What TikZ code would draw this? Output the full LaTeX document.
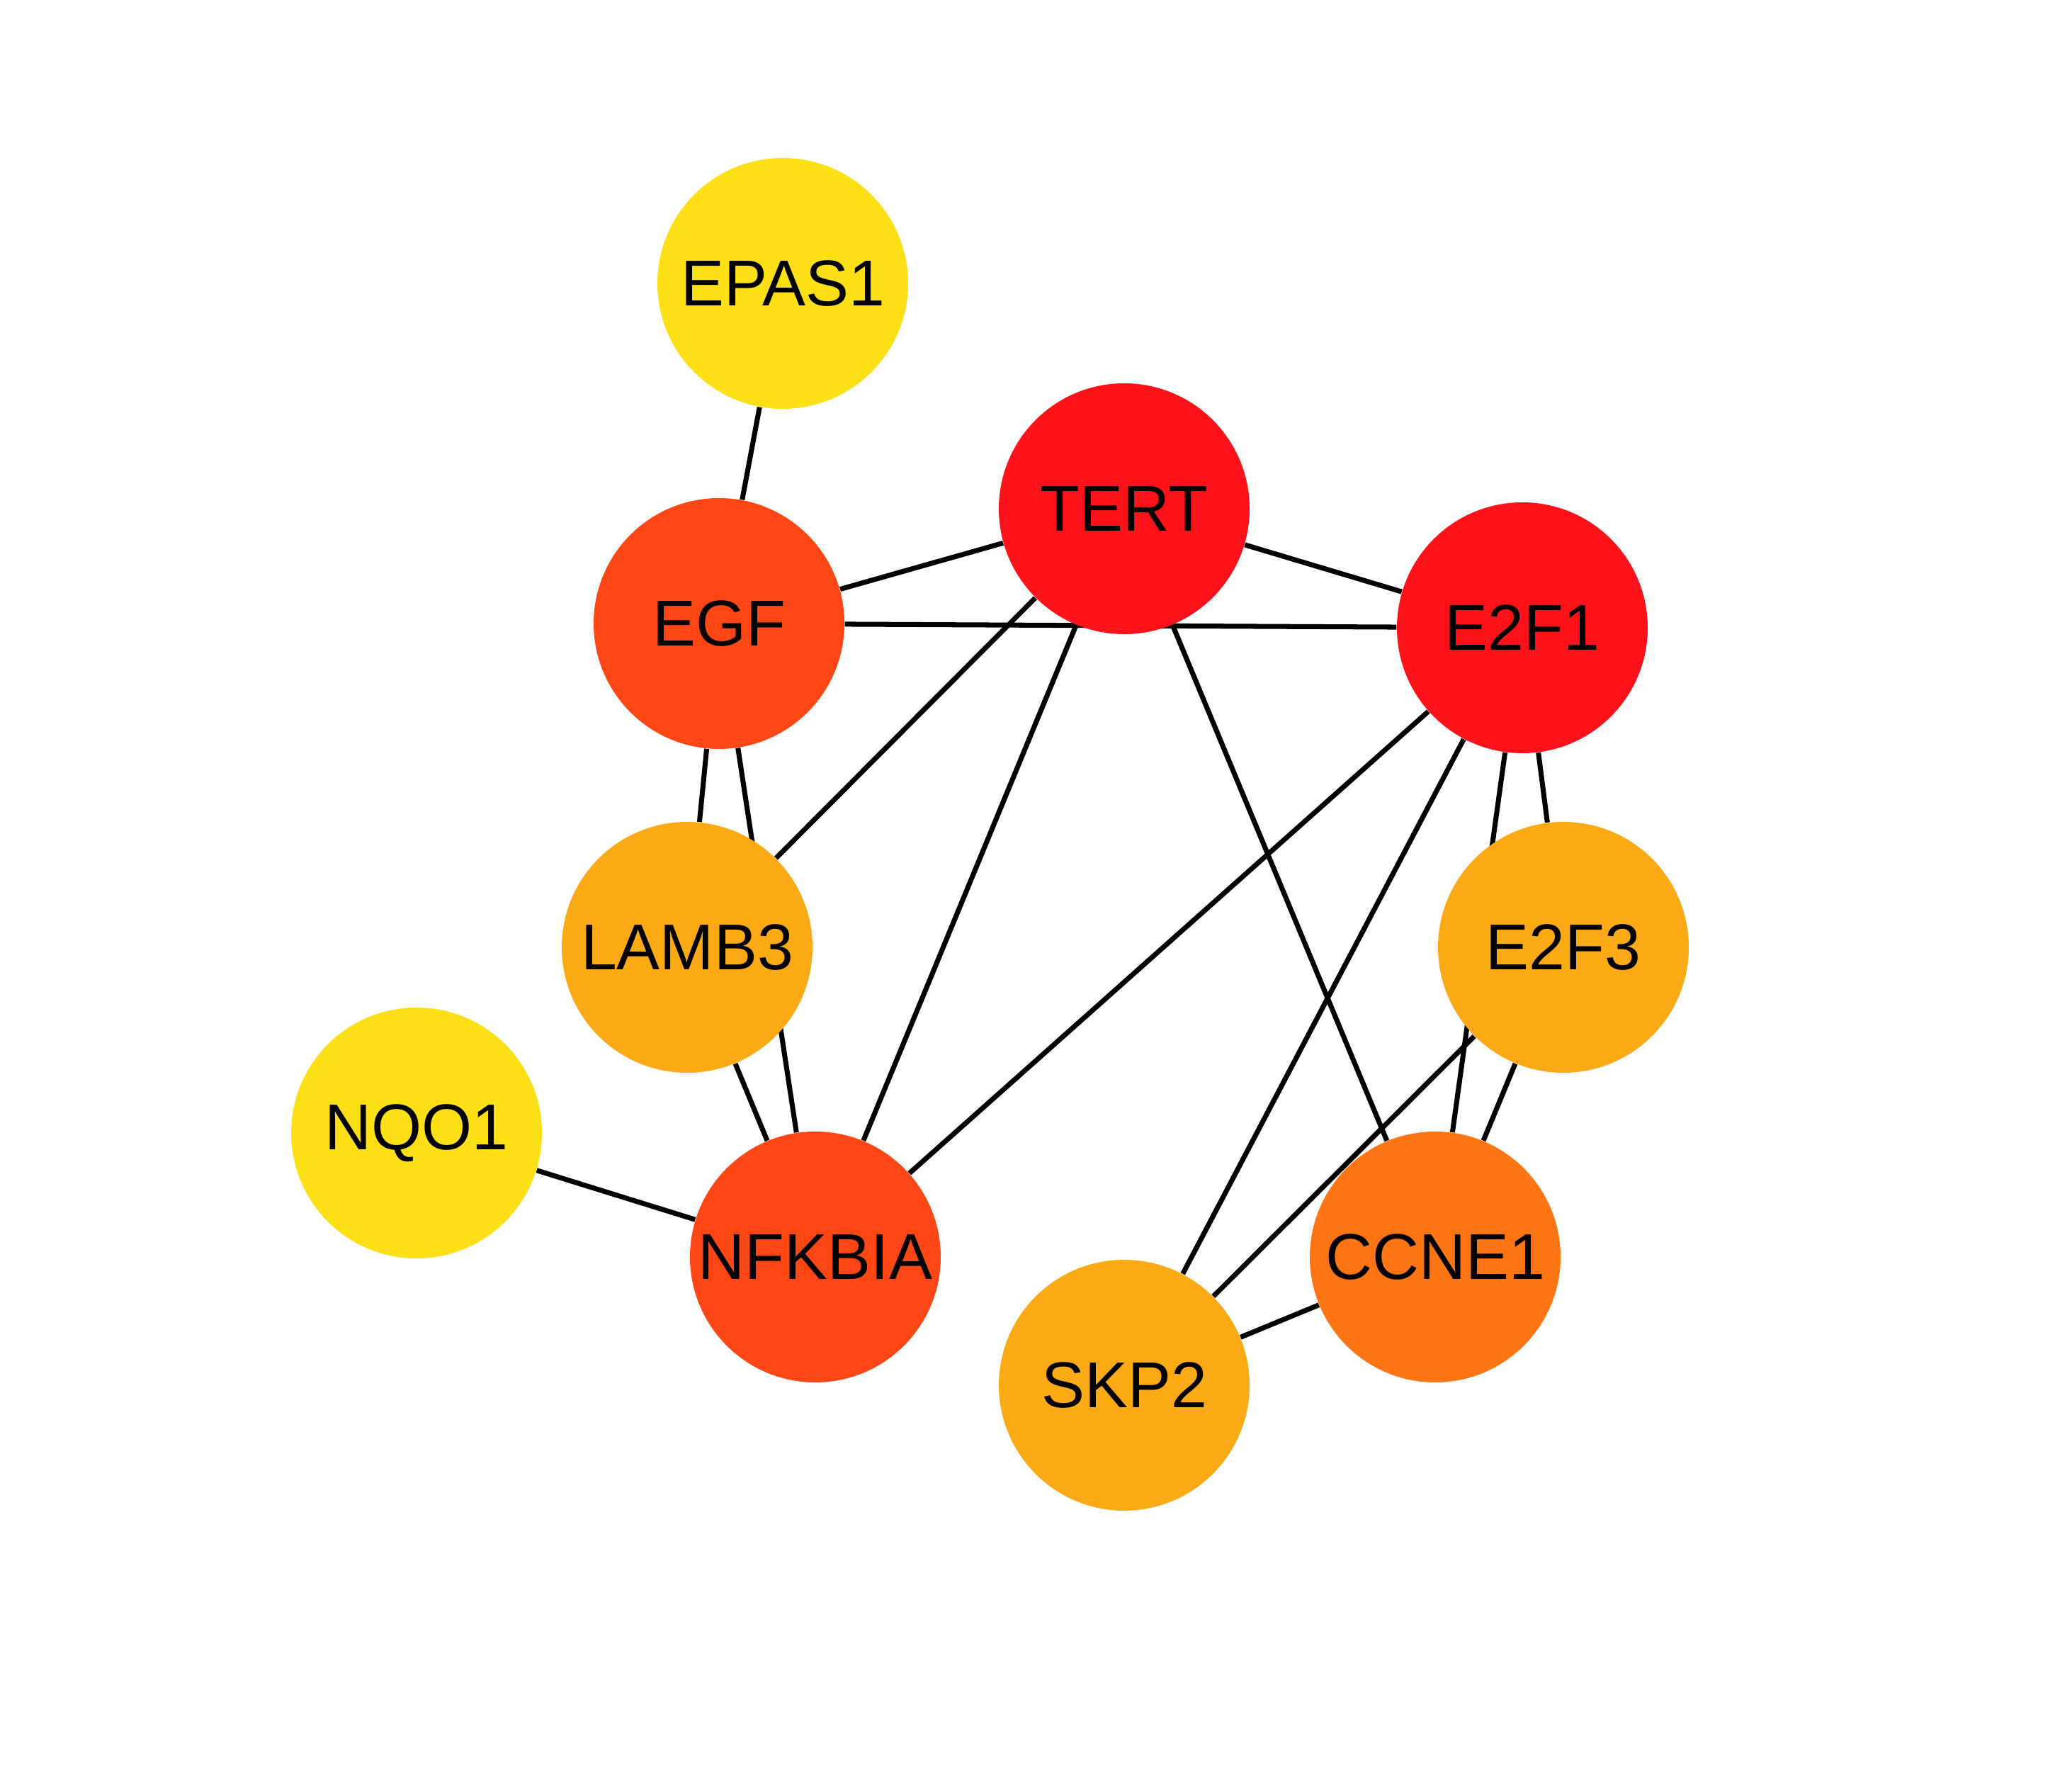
\documentclass[tikz,border=0pt]{standalone}
\usepackage{fontspec}
\setmainfont{Liberation Sans}
\usetikzlibrary{backgrounds}
\definecolor{yelw}{HTML}{FDDF16}
\definecolor{redd}{HTML}{FF1119}
\definecolor{redor}{HTML}{FF4716}
\definecolor{orng}{HTML}{FCA916}
\definecolor{dkor}{HTML}{FF7514}
\begin{document}
\begin{tikzpicture}[gene/.style={circle,minimum size=3.54cm,inner sep=0pt,font=\fontsize{26}{30}\selectfont},
  link/.style={line width=2pt}]
  \useasboundingbox(0,0) rectangle (29.25,24.9);
  \node[gene,fill=yelw](epas1) at (11.05,20.90){EPAS1};
  \node[gene,fill=redd](tert) at (15.87,17.72){TERT};
  \node[gene,fill=redor](egf) at (10.15,16.10){EGF};
  \node[gene,fill=redd](e2f1) at (21.49,16.04){E2F1};
  \node[gene,fill=orng](lamb3) at (9.70,11.53){LAMB3};
  \node[gene,fill=orng](e2f3) at (22.07,11.53){E2F3};
  \node[gene,fill=yelw](nqo1) at (5.88,8.91){NQO1};
  \node[gene,fill=redor](nfkbia) at (11.51,7.16){NFKBIA};
  \node[gene,fill=dkor](ccne1) at (20.26,7.16){CCNE1};
  \node[gene,fill=orng](skp2) at (15.87,5.35){SKP2};
  \begin{scope}[on background layer]
    \draw[link](epas1)--(egf);
    \draw[link](egf)--(tert);
    \draw[link](egf)--(e2f1);
    \draw[link](tert)--(e2f1);
    \draw[link](tert)--(lamb3);
    \draw[link](tert)--(nfkbia);
    \draw[link](tert)--(ccne1);
    \draw[link](egf)--(lamb3);
    \draw[link](egf)--(nfkbia);
    \draw[link](lamb3)--(nfkbia);
    \draw[link](nqo1)--(nfkbia);
    \draw[link](e2f1)--(nfkbia);
    \draw[link](e2f1)--(skp2);
    \draw[link](e2f1)--(e2f3);
    \draw[link](e2f1)--(ccne1);
    \draw[link](e2f3)--(ccne1);
    \draw[link](e2f3)--(skp2);
    \draw[link](skp2)--(ccne1);
  \end{scope}
\end{tikzpicture}
\end{document}
